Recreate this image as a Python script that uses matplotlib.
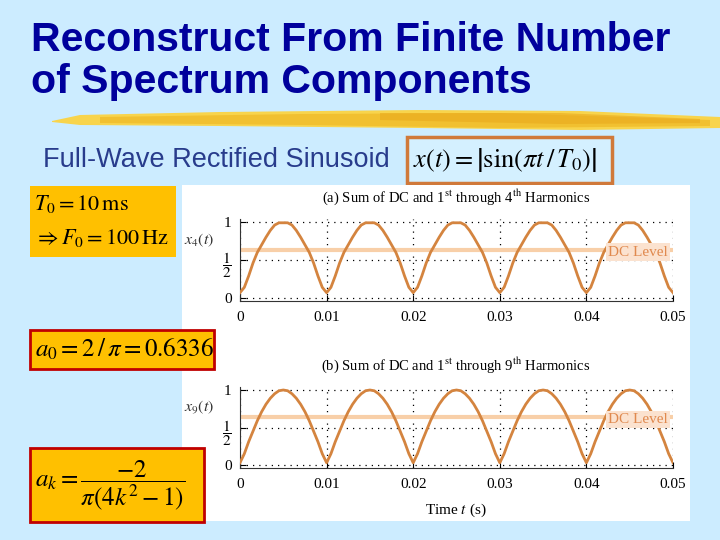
import numpy as np
import matplotlib
matplotlib.use('Agg')
import matplotlib.pyplot as plt
from matplotlib.patches import Rectangle, Polygon

plt.rcParams['mathtext.fontset'] = 'stix'
plt.rcParams['font.family'] = 'Liberation Serif'

# --- data ---
period_s = 0.01
n_periods = 5
# one period of each partial sum, sampled every 0.5 ms
x4_period = [0.07, 0.14, 0.29, 0.46, 0.60, 0.70, 0.80, 0.89, 0.96, 0.99, 0.99,
             0.99, 0.96, 0.89, 0.80, 0.70, 0.60, 0.46, 0.29, 0.14, 0.07]
x9_period = [0.03, 0.15, 0.31, 0.45, 0.59, 0.71, 0.81, 0.89, 0.95, 0.99, 1.00,
             0.99, 0.95, 0.89, 0.81, 0.71, 0.59, 0.45, 0.31, 0.15, 0.03]
dc_level = 0.6366
xticks = [0, 0.01, 0.02, 0.03, 0.04, 0.05]
xtick_labels = ['0', '0.01', '0.02', '0.03', '0.04', '0.05']
yticks = [0, 0.5, 1]
ytick_labels = ['0', r'$\dfrac{1}{2}$', '1']
panel_titles = [r'(a) Sum of DC and 1$^{\rm st}$ through 4$^{\rm th}$ Harmonics',
                r'(b) Sum of DC and 1$^{\rm st}$ through 9$^{\rm th}$ Harmonics']
panel_ylabels = [r'$x_4(t)$', r'$x_9(t)$']
curves = [x4_period, x9_period]

BG = '#CCECFF'
CURVE = '#D4843F'
DC_LINE = '#F8CFA8'
GOLD = '#FFC000'

W, H = 720, 540
fig = plt.figure(figsize=(7.2, 5.4), dpi=100)
fig.patch.set_facecolor(BG)

# overlay in pixel coordinates for the slide decoration
bg = fig.add_axes([0, 0, 1, 1], zorder=0)
bg.set_xlim(0, W)
bg.set_ylim(H, 0)
bg.axis('off')

# title
bg.text(31, 40, 'Reconstruct From Finite Number', family='Liberation Sans',
        weight='bold', size=29.5, color='#00009C', va='center', ha='left')
bg.text(31, 82, 'of Spectrum Components', family='Liberation Sans',
        weight='bold', size=29.5, color='#00009C', va='center', ha='left')

# yellow brush stroke under the title
brush = [(52, 121), (80, 115), (220, 112), (420, 110), (580, 111), (720, 117),
         (720, 128), (580, 130), (420, 128), (220, 126), (80, 125), (52, 122)]
bg.add_patch(Polygon(brush, closed=True, fc='#F8D44C', ec='none'))
core = [(100, 117), (300, 114), (500, 113), (710, 120), (710, 126), (500, 128),
        (300, 125), (100, 123)]
bg.add_patch(Polygon(core, closed=True, fc='#F0BC2A', ec='none', alpha=0.8))
streak = [(380, 113), (560, 113), (700, 119), (700, 123), (560, 124), (380, 120)]
bg.add_patch(Polygon(streak, closed=True, fc='#E9A91C', ec='none', alpha=0.6))

# subtitle and formula box
bg.text(43, 160, 'Full-Wave Rectified Sinusoid', family='Liberation Sans',
        size=19.5, color='#283C8C', va='center', ha='left')
bg.add_patch(Rectangle((407, 137), 205, 46, fc='#D4F0FF', ec='#D0793A', lw=2.5))
bg.text(413, 160, r'$x(t) = \left|\sin(\pi t\,/\,T_0)\right|$', size=19,
        va='center', ha='left', color='black')

# white figure panel
bg.add_patch(Rectangle((182, 185), 508, 336, fc='white', ec='none'))

# gold note boxes
bg.add_patch(Rectangle((30, 186), 146, 71, fc=GOLD, ec='none'))
bg.text(34, 204, r'$T_0 = 10\,\mathrm{ms}$', size=16, va='center', ha='left')
bg.text(34, 238, r'$\Rightarrow F_0 = 100\,\mathrm{Hz}$', size=16,
        va='center', ha='left')
bg.add_patch(Rectangle((30, 330), 184, 39, fc=GOLD, ec='#C00000', lw=2))
bg.text(35, 349, r'$a_0 = 2\,/\,\pi = 0.6336$', size=18, va='center', ha='left')
bg.add_patch(Rectangle((30, 448), 174, 74, fc=GOLD, ec='#C00000', lw=2))
bg.text(35, 485, r'$a_k = \dfrac{-2}{\pi(4k^2-1)}$', size=18, va='center',
        ha='left')


def px_axes(left, top, right, bottom):
    return fig.add_axes([left / W, 1 - bottom / H, (right - left) / W,
                         (bottom - top) / H], zorder=1)


t = np.linspace(0, period_s * n_periods, 20 * n_periods + 1)
layout = [(219, 301, 197, 240), (387, 468, 365, 407)]  # top, bottom, title y, label y

for i, (top, bottom, title_y, label_y) in enumerate(layout):
    ax = px_axes(240, top, 673, bottom)
    ax.set_facecolor('none')
    y = np.concatenate([curves[i][:-1]] * n_periods + [curves[i][-1:]])
    ax.axhline(dc_level, color=DC_LINE, lw=3, zorder=2)
    ax.plot(t, y, color=CURVE, lw=2, zorder=3)
    ax.text(0.0494, 0.605, 'DC Level', color='#E0894E', size=11, ha='right',
            va='center', zorder=4,
            bbox=dict(fc='#FBE2CF', ec='none', pad=1.5))
    ax.set_xlim(0, 0.05)
    ax.set_ylim(-0.04, 1.04)
    ax.set_xticks(xticks)
    ax.set_xticklabels(xtick_labels)
    ax.set_yticks(yticks)
    ax.set_yticklabels(ytick_labels)
    ax.tick_params(direction='in', length=4, width=0.8, labelsize=11, pad=7)
    ax.tick_params(axis='y', pad=6)
    ax.grid(True, ls=(0, (1, 4)), color='black', lw=0.9)
    for side in ['top', 'right']:
        ax.spines[side].set_visible(False)
    for side in ['left', 'bottom']:
        ax.spines[side].set_linewidth(0.8)
        ax.spines[side].set_color('#333333')
    bg.text(456, title_y, panel_titles[i], size=10.5, ha='center', va='center')
    bg.text(184, label_y, panel_ylabels[i], size=11.5, ha='left', va='center',
            color='#333333')

bg.text(456, 510, r'Time $t$ (s)', size=11, ha='center', va='center')

fig.savefig('out.png', dpi=100, facecolor=BG)
